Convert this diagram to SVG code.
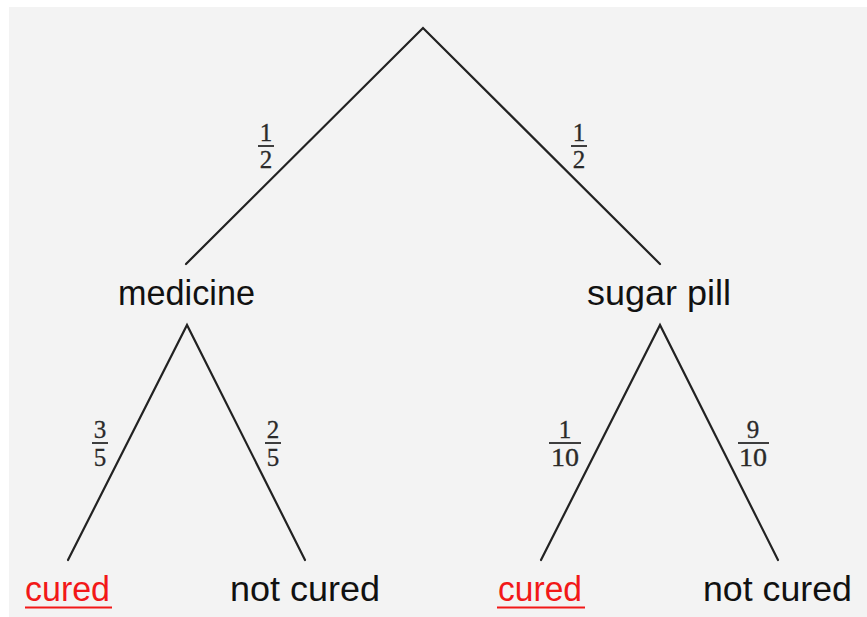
<svg xmlns="http://www.w3.org/2000/svg" width="867" height="617" viewBox="0 0 867 617">
<style>
.lbl{font-family:"Liberation Sans",Arial,sans-serif;font-size:35px;fill:#111;text-anchor:middle}
.red{fill:#f21818}
.num{font-family:"Liberation Serif","Times New Roman",serif;font-size:25px;fill:#2a2a2a;text-anchor:middle;stroke:#2a2a2a;stroke-width:0.3}
.bar{stroke:#2a2a2a;stroke-width:1.8}
.edge{stroke:#222;stroke-width:2.2;fill:none;stroke-linecap:round}
.ul{stroke:#f21818;stroke-width:2}
</style>
<rect x="0" y="0" width="867" height="617" fill="#ffffff"/>
<rect x="9" y="7" width="858" height="610" fill="#f3f3f3"/>
<g id="connectors">
<path class="edge" d="M186,264 L423,28 L660,264"/>
<path class="edge" d="M68,560 L187,325 L305,560"/>
<path class="edge" d="M541,560 L660,325 L778,560"/>
</g>
<g id="edge-labels">
<g id="p-medicine"><text class="num" x="266" y="141">1</text><line class="bar" x1="258" y1="146" x2="274" y2="146"/><text class="num" x="266" y="168">2</text></g>
<g id="p-sugar"><text class="num" x="579" y="141">1</text><line class="bar" x1="571" y1="146" x2="587" y2="146"/><text class="num" x="579" y="168">2</text></g>
<g id="p-med-cured"><text class="num" x="100" y="438">3</text><line class="bar" x1="92" y1="443" x2="108" y2="443"/><text class="num" x="100" y="466">5</text></g>
<g id="p-med-not"><text class="num" x="273" y="438">2</text><line class="bar" x1="265" y1="443" x2="281" y2="443"/><text class="num" x="273" y="466">5</text></g>
<g id="p-sug-cured"><text class="num" x="565" y="438">1</text><line class="bar" x1="549" y1="443" x2="581" y2="443"/><text class="num" x="565" y="466" textLength="28" lengthAdjust="spacingAndGlyphs">10</text></g>
<g id="p-sug-not"><text class="num" x="753" y="438">9</text><line class="bar" x1="738" y1="443" x2="769" y2="443"/><text class="num" x="753" y="466" textLength="28" lengthAdjust="spacingAndGlyphs">10</text></g>
</g>
<g id="medicine"><text class="lbl" x="186.5" y="305" textLength="137" lengthAdjust="spacingAndGlyphs">medicine</text></g>
<g id="sugar-pill"><text class="lbl" x="659" y="305" textLength="144" lengthAdjust="spacingAndGlyphs">sugar pill</text></g>
<g id="med-cured"><text class="lbl red" x="67.5" y="601" textLength="85" lengthAdjust="spacingAndGlyphs">cured</text><line class="ul" x1="25" y1="607.5" x2="112" y2="607.5"/></g>
<g id="med-not-cured"><text class="lbl" x="305" y="601" textLength="150" lengthAdjust="spacingAndGlyphs">not cured</text></g>
<g id="sug-cured"><text class="lbl red" x="540" y="601" textLength="84" lengthAdjust="spacingAndGlyphs">cured</text><line class="ul" x1="497" y1="607.5" x2="585" y2="607.5"/></g>
<g id="sug-not-cured"><text class="lbl" x="777.5" y="601" textLength="149" lengthAdjust="spacingAndGlyphs">not cured</text></g>
</svg>
